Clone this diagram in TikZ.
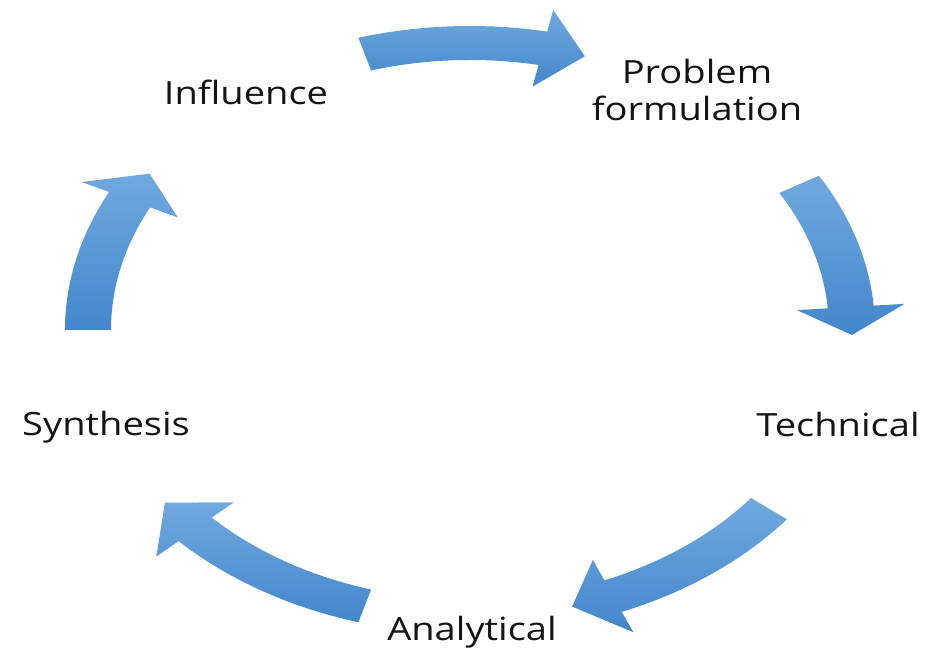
\documentclass[tikz,border=0pt]{standalone}
\usepackage{fontspec}
\setmainfont{Open Sans}
\definecolor{arrowtop}{HTML}{70A9DF}
\definecolor{arrowbot}{HTML}{4287CC}
% curved block arrow on the ring: tail angle, head base angle, tip angle
\newcommand{\ringarrow}[3]{%
  \shade[top color=arrowtop,bottom color=arrowbot]
    (#1:405 and 304) arc[start angle=#1,end angle=#2,x radius=405,y radius=304]
    -- (#2:436 and 326) -- (#3:382 and 287) -- (#2:328 and 248)
    -- (#2:359 and 270) arc[start angle=#2,end angle=#1,x radius=359,y radius=270]
    -- cycle;}
\tikzset{
  phase/.style={font=\fontsize{32}{37}\selectfont,text=black!92,align=center,
    inner sep=0pt,xscale=1.19}
}
\begin{document}
\begin{tikzpicture}[x=1pt,y=1pt]
  \useasboundingbox (0,0) rectangle (926,652);
  % the five arrows of the cycle
  \begin{scope}[shift={(470,322)}]
    \ringarrow{106}{79}{72.5}
    \ringarrow{30.5}{4.6}{-1}
    \ringarrow{-38.5}{-68}{-74.5}
    \ringarrow{-106}{-136}{-143}
    \ringarrow{180}{153}{147}
  \end{scope}
  % labels
  \node[phase] (infl) at (246,560) {Influence};
  \node[phase] (prob) at (697,562) {Problem\\formulation};
  \node[phase] (tech) at (838,227) {Technical};
  \node[phase] (anal) at (472,20) {Analytical};
  \node[phase] (synth) at (106,225) {Synthesis};
\end{tikzpicture}
\end{document}
